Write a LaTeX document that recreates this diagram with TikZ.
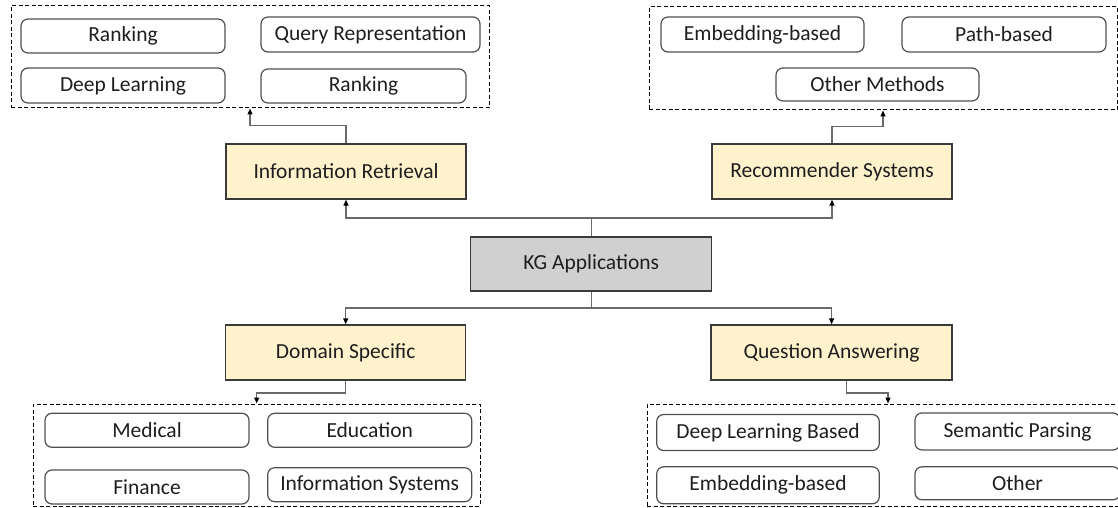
\documentclass[tikz,border=0pt]{standalone}
\usepackage{fontspec}
\setmainfont{Carlito}
\usetikzlibrary{arrows.meta}
\definecolor{mainfill}{HTML}{FFF2CC}
\definecolor{rootfill}{HTML}{D0D0D0}
\definecolor{edge}{HTML}{3A3A3A}
\definecolor{itemedge}{HTML}{505050}
\definecolor{wire}{HTML}{6A6A6A}
\definecolor{ink}{HTML}{1E1E1E}
\tikzset{
  every node/.style={font=\fontsize{21.5}{24}\selectfont, text=ink, inner sep=2pt},
  mainbox/.style={draw=edge, line width=1.3pt, fill=mainfill, minimum width=240, minimum height=55},
  rootbox/.style={draw=edge, line width=1.3pt, fill=rootfill, minimum width=241, minimum height=54},
  itembox/.style={draw=itemedge, line width=1.2pt, rounded corners=7pt, fill=white},
  groupbox/.style={draw=black, line width=1pt, dash pattern=on 4pt off 2.5pt},
  conn/.style={draw=wire, line width=1.3pt, -{Triangle[length=6pt,width=5pt,fill=black,color=black]}},
}
\begin{document}
\begin{tikzpicture}[x=1pt, y=-1pt]
  \clip (0,0) rectangle (1118,508);
  \fill[white] (0,0) rectangle (1118,508);

  % dashed groups
  \node[groupbox, minimum width=478, minimum height=102] (irgrp) at (250,57) {};
  \node[groupbox, minimum width=468, minimum height=103] (rsgrp) at (883,58.5) {};
  \node[groupbox, minimum width=446.7, minimum height=102] (dsgrp) at (256.7,455) {};
  \node[groupbox, minimum width=482, minimum height=102] (qagrp) at (888,455) {};

  % information retrieval items
  \node[itembox, minimum width=204, minimum height=34] (ir1) at (123,36) {Ranking};
  \node[itembox, minimum width=219, minimum height=35] (ir2) at (370.5,34.5) {Query Representation};
  \node[itembox, minimum width=204, minimum height=35] (ir3) at (123,85.5) {Deep Learning};
  \node[itembox, minimum width=205, minimum height=34] (ir4) at (363.5,86) {Ranking};

  % recommender items
  \node[itembox, minimum width=203, minimum height=35] (rs1) at (762.5,34.5) {Embedding-based};
  \node[itembox, minimum width=204, minimum height=35] (rs2) at (1004,34.5) {Path-based};
  \node[itembox, minimum width=203, minimum height=33] (rs3) at (877.5,84.5) {Other Methods};

  % domain specific items
  \node[itembox, minimum width=204, minimum height=34] (ds1) at (147,430.3) {Medical};
  \node[itembox, minimum width=204, minimum height=34] (ds2) at (369.7,430.3) {Education};
  \node[itembox, minimum width=204, minimum height=34] (ds3) at (147,487) {Finance};
  \node[itembox, minimum width=204, minimum height=34] (ds4) at (369.7,484.7) {Information Systems};

  % question answering items
  \node[itembox, minimum width=222.6, minimum height=36] (qa1) at (768,432.5) {Deep Learning Based};
  \node[itembox, minimum width=205, minimum height=37] (qa2) at (1017.5,431.5) {Semantic Parsing};
  \node[itembox, minimum width=222.6, minimum height=37] (qa3) at (768,485.3) {Embedding-based};
  \node[itembox, minimum width=205, minimum height=33] (qa4) at (1017.5,483.3) {Other};

  % main categories
  \node[mainbox] (ir) at (346,171.5) {Information Retrieval};
  \node[mainbox] (rs) at (832,171.5) {Recommender Systems};
  \node[rootbox] (kg) at (591.2,264) {KG Applications};
  \node[mainbox] (ds) at (345.7,352.5) {Domain Specific};
  \node[mainbox, minimum width=241] (qa) at (831.6,352.5) {Question Answering};

  % connectors from the root
  \draw[conn] (kg.north) -- ++(0,-18.4) -| (ir.south);
  \draw[conn] (kg.north) -- ++(0,-18.4) -| (rs.south);
  \draw[conn] (kg.south) -- ++(0,16.3) -| (ds.north);
  \draw[conn] (kg.south) -- ++(0,16.3) -| (qa.north);

  % connectors to the groups
  \draw[conn] (ir.north) -- ++(0,-18) -| (irgrp.south);
  \draw[conn] (rs.north) -- ++(0,-17) -| (rsgrp.south);
  \draw[conn] (ds.south) -- ++(0,12.3) -| (dsgrp.north);
  \draw[conn] ([xshift=15pt]qa.south) -- ++(0,12.3) -| (qagrp.north);
\end{tikzpicture}
\end{document}
